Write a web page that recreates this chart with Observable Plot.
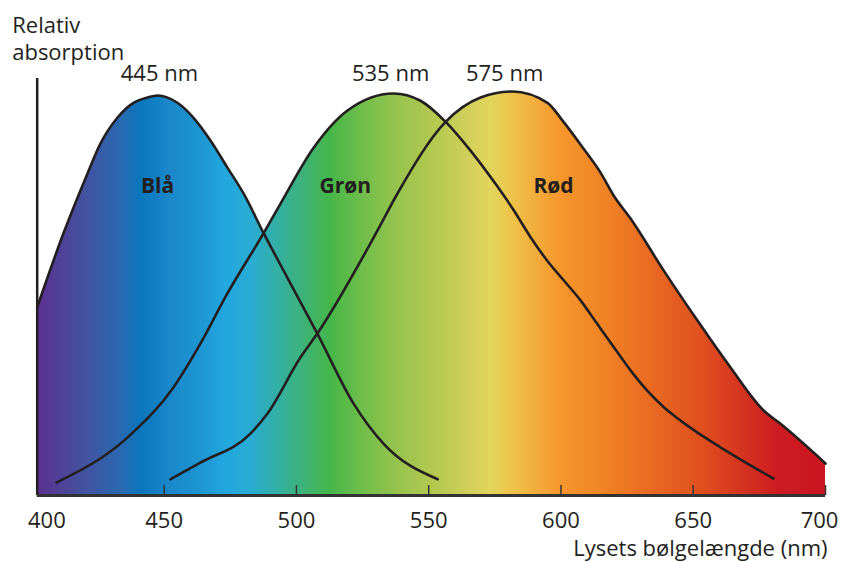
<!DOCTYPE html>
<html><head><meta charset="utf-8">
<script src="https://cdn.jsdelivr.net/npm/d3@7"></script>
<script src="https://cdn.jsdelivr.net/npm/@observablehq/plot@0.6"></script>
<style>body{margin:0;background:#fff}svg{display:block}</style>
</head><body><div id="chart"></div>
<script>
// Wavelength (nm) and relative absorption for the three cone types
const blueNm  = [402, 411.9, 421.0, 425.9, 432.3, 438.4, 443.7, 447.5, 455.0, 461.1, 467.5, 473.9, 480.0, 487.6, 496.5, 507.9, 521.6, 532.9, 553.4];
const blueAbs = [0.465, 0.647, 0.795, 0.869, 0.933, 0.970, 0.983, 0.988, 0.970, 0.933, 0.877, 0.810, 0.746, 0.648, 0.539, 0.400, 0.227, 0.128, 0.040];

const greenNm  = [409.3, 436.1, 453.5, 463.7, 473.9, 487.6, 494.0, 506.5, 519.3, 536.7, 546.9, 556.4, 565.8, 576.0, 582.2, 588.5, 594.8, 601.1, 607.4, 613.7, 620.0, 626.3, 632.6, 638.9, 645.2, 651.5, 660.3, 680.3];
const greenAbs = [0.032, 0.143, 0.267, 0.375, 0.499, 0.648, 0.721, 0.859, 0.951, 0.993, 0.975, 0.923, 0.852, 0.763, 0.704, 0.638, 0.580, 0.531, 0.482, 0.424, 0.366, 0.309, 0.259, 0.218, 0.185, 0.156, 0.119, 0.042];

const redNm  = [452.4, 463.7, 482.6, 489.0, 501.5, 507.9, 530.6, 538.2, 556.4, 569.6, 581.7, 594.9, 600.6, 608.5, 614.9, 619.9, 626.3, 638.8, 651.6, 664.1, 676.6, 683.0, 700];
const redAbs = [0.040, 0.081, 0.153, 0.202, 0.341, 0.400, 0.654, 0.746, 0.923, 0.983, 0.998, 0.970, 0.926, 0.857, 0.798, 0.741, 0.684, 0.556, 0.432, 0.316, 0.210, 0.177, 0.079];

// Spectrum colours along the wavelength axis
const spectrumNm = [402, 418.4, 433.5, 441.1, 452.4, 463.7, 473.2, 482.6, 490.2, 501.5, 512.9, 524.2, 539.4, 550.9, 566, 573.4, 581, 592.4, 600, 615, 634, 653, 671.7, 683, 700];
const spectrumColors = ["#5b2f91", "#46509f", "#2a68b0", "#0a77bd", "#1a88c9", "#1d96d2", "#22a7df", "#28acd4", "#30aeb0", "#3cb27d", "#45b649", "#6dbd4a", "#9ac44e", "#b0c84e", "#d3d05a", "#e2d55c", "#edc54a", "#f3a838", "#f6962b", "#f08525", "#ea6a22", "#e0501f", "#d32f20", "#cd1a22", "#cc1621"];

// Axis
const xDomain = [400, 700];
const yDomain = [0, 1.03];
const axisStart = 402;
const xTicks = [450, 500, 550, 600, 650, 700];

// Labels
const peakLabels = ["445 nm", "535 nm", "575 nm"];
const peakNm = [448.2, 535.6, 578.7];
const peakAbs = [1.04, 1.04, 1.04];
const coneNames = ["Blå", "Grøn", "Rød"];
const coneNameNm = [447.5, 518.5, 597.2];
const coneNameAbs = [0.765, 0.765, 0.765];

const ink = "#231f20";
const font = "'Open Sans', sans-serif";

const series = (nm, abs) => nm.map((x, i) => ({nm: x, abs: abs[i]}));
const curves = [series(blueNm, blueAbs), series(greenNm, greenAbs), series(redNm, redAbs)];
const peaks = peakLabels.map((t, i) => ({t, nm: peakNm[i], abs: peakAbs[i]}));
const names = coneNames.map((t, i) => ({t, nm: coneNameNm[i], abs: coneNameAbs[i]}));

const plot = Plot.plot({
  width: 843, height: 562,
  marginTop: 78, marginBottom: 67, marginLeft: 31.4, marginRight: 18,
  style: {fontFamily: font, color: ink, background: "white"},
  x: {domain: xDomain},
  y: {domain: yDomain, axis: null},
  marks: [
    ...curves.map(c => Plot.areaY(c, {x: "nm", y: "abs", fill: "url(#spectrum)", curve: "monotone-x"})),
    ...curves.map(c => Plot.line(c, {x: "nm", y: "abs", stroke: ink, strokeWidth: 2.6, curve: "monotone-x"})),
    Plot.ruleX([axisStart], {y1: yDomain[0], y2: yDomain[1], stroke: ink, strokeWidth: 2.5}),
    Plot.ruleY([0], {x1: axisStart, x2: xDomain[1], stroke: "#333", strokeWidth: 3}),
    Plot.axisX(xTicks, {tickSize: -10, fill: "none", label: null, stroke: "#333", strokeWidth: 1.5}),
    Plot.axisX(xTicks.slice(0, -1), {tickSize: 0, tickPadding: 16.4, fontSize: 22, fill: ink, label: null}),
    Plot.axisX([xDomain[0]], {tickSize: 0, tickPadding: 16.4, dx: 15, fontSize: 22, fill: ink, label: null}),
    Plot.axisX([xDomain[1]], {tickSize: 0, tickPadding: 16.4, dx: -6, fontSize: 22, fill: ink, label: null}),
    Plot.text(peaks, {x: "nm", y: "abs", text: "t", fontSize: 22, fill: ink, lineAnchor: "middle"}),
    Plot.text(names, {x: "nm", y: "abs", text: "t", fontSize: 21, fontWeight: "bold", fill: ink, lineAnchor: "middle"}),
    Plot.text(["Relativ\nabsorption"], {frameAnchor: "top-left", textAnchor: "start", lineAnchor: "middle", lineHeight: 1.21, dx: -19.7, dy: -40.7, fontSize: 22, fill: ink}),
    Plot.text(["Lysets bølgelængde (nm)"], {frameAnchor: "bottom-right", textAnchor: "end", lineAnchor: "middle", dx: 2, dy: 53.3, fontSize: 22, fill: ink})
  ]
});

// Spectrum gradient defined in the x scale's coordinates
const xs = plot.scale("x");
const gx1 = xs.apply(spectrumNm[0]);
const gx2 = xs.apply(spectrumNm[spectrumNm.length - 1]);
const svg = d3.select(plot);
const grad = svg.insert("defs", ":first-child").append("linearGradient")
  .attr("id", "spectrum").attr("gradientUnits", "userSpaceOnUse")
  .attr("x1", gx1).attr("x2", gx2).attr("y1", 0).attr("y2", 0);
spectrumNm.forEach((nm, i) => {
  grad.append("stop").attr("offset", (xs.apply(nm) - gx1) / (gx2 - gx1)).attr("stop-color", spectrumColors[i]);
});

document.getElementById("chart").append(plot);
</script>
</body></html>
